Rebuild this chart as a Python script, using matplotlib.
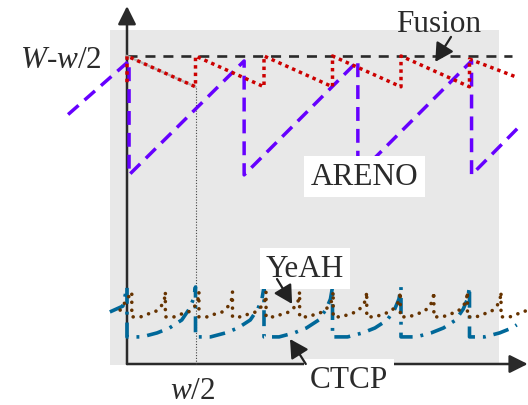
import matplotlib
matplotlib.use("Agg")
import matplotlib.pyplot as plt
from matplotlib.patches import Rectangle

plt.rcParams["font.family"] = "Liberation Serif"
plt.rcParams["mathtext.fontset"] = "custom"
plt.rcParams["mathtext.rm"] = "Liberation Serif"
plt.rcParams["mathtext.it"] = "Liberation Serif:italic"

# x in units of w/2, y normalised so that W - w/2 = 1
fusion_x = [0, 0, 1, 1, 2, 2, 3, 3, 4, 4, 5, 5, 5.68]
fusion_y = [0.915, 1.0, 0.9, 1.0, 0.9, 1.0, 0.9, 1.0, 0.9, 1.0, 0.9, 0.99, 0.932]

areno_x = [-0.86, 0.03, 0.03, 1.71, 1.71, 3.37, 3.37, 5.03, 5.03, 5.75]
areno_y = [0.81, 0.984, 0.614, 0.984, 0.614, 0.984, 0.614, 0.984, 0.614, 0.776]

# CTCP: one cubic-like cycle, repeated every w/2
ctcp_starts = [0, 1, 2, 3, 4]
ctcp_dx = [0, 0.22, 0.44, 0.62, 0.8, 0.91, 0.97, 1.0]
ctcp_y = [0.088, 0.088, 0.101, 0.117, 0.143, 0.179, 0.211, 0.25]
ctcp_lead_x = [-0.25, -0.06, 0]
ctcp_lead_y = [0.169, 0.188, 0.25]
ctcp_tail_x = [5, 5.22, 5.44, 5.62, 5.69]
ctcp_tail_y = [0.088, 0.088, 0.101, 0.117, 0.127]

# YeAH: faster cycles, period ~ w/4
yeah_starts = [0.07, 0.56, 1.05, 1.54, 2.03, 2.52, 3.01, 3.50, 3.99, 4.48, 4.97, 5.46]
yeah_dx = [0, 0, 0.13, 0.23, 0.34, 0.43, 0.475]
yeah_y = [0.234, 0.153, 0.153, 0.162, 0.169, 0.188, 0.208]
yeah_lead_x = [-0.1, -0.044]
yeah_lead_y = [0.175, 0.195]

max_x = 5.62
max_y = 1.0
half_w = 1
fusion_trough = 0.9

TEXT = "#2b2b2b"
FS = 22.5


def tile(starts, dx, ys, lead_x=(), lead_y=(), tail_x=(), tail_y=()):
    xs, out = list(lead_x), list(lead_y)
    for s in starts:
        xs += [s + d for d in dx]
        out += list(ys)
    return xs + list(tail_x), out + list(tail_y)


fig = plt.figure(figsize=(5.28, 4.06), dpi=100)
ax = fig.add_axes([0, 0, 1, 1])
ax.set_xlim(-127 / 68.5, 401 / 68.5)
ax.set_ylim(-41 / 308, 365 / 308)
ax.axis("off")

ax.add_patch(Rectangle((-0.248, -0.003), 5.68, 1.087, fc="#e8e8e8", ec="none", zorder=0))

# axes with arrow heads
arrow_kw = dict(arrowstyle="-|>,head_length=1,head_width=0.5", mutation_scale=11,
                lw=1.8, color="#2a2a2a", shrinkA=0, shrinkB=0)
ax.annotate("", xy=(0, 1.162), xytext=(0, 0), arrowprops=arrow_kw, zorder=1.5)
ax.annotate("", xy=(5.85, 0), xytext=(0, 0), arrowprops=arrow_kw, zorder=1.5)

# reference lines
ax.plot([0, max_x], [max_y, max_y], color="#2a2a2a", lw=1.9, ls=(0, (3.8, 3.0)), zorder=2)
ax.plot([half_w, half_w], [0, fusion_trough], color="#444444",
        lw=0.8, ls=(0, (1, 1.5)), zorder=2)
ax.plot(fusion_x[1:3], fusion_y[1:3], color="#b4b4b4", lw=1.6, zorder=2)

# series
ax.plot(areno_x, areno_y, color="#6600ff", lw=2.5, ls=(0, (4.0, 2.3)), zorder=3)
ax.plot(fusion_x, fusion_y, color="#cc0000", lw=2.5, ls=(0, (1, 1.15)), zorder=3.5)

cx, cy = tile(ctcp_starts, ctcp_dx, ctcp_y, ctcp_lead_x, ctcp_lead_y, ctcp_tail_x, ctcp_tail_y)
ax.plot(cx, cy, color="#006899", lw=2.6, ls=(0, (4.4, 2.2, 0.8, 2.2)), zorder=3)

yx, yy = tile(yeah_starts, yeah_dx, yeah_y, yeah_lead_x, yeah_lead_y)
ax.plot(yx, yy, color="#663300", lw=2.6, ls=(0, (0.01, 2.2)), dash_capstyle="round", zorder=3.2)

# labels
box = dict(boxstyle="square,pad=0.2", fc="white", ec="none")
ax.text(-0.365, 0.964, r"$W$-$w$/2", fontsize=FS, color=TEXT, ha="right", va="baseline")
ax.text(0.956, -0.112, r"$w$/2", fontsize=FS, color=TEXT, ha="center", va="baseline")
ax.text(4.555, 1.081, "Fusion", fontsize=FS, color=TEXT, ha="center", va="baseline", zorder=5)
ax.text(3.467, 0.584, "ARENO", fontsize=FS, color=TEXT, ha="center", va="baseline",
        bbox=box, zorder=5)
ax.text(2.60, 0.286, "YeAH", fontsize=FS, color=TEXT, ha="center", va="baseline",
        bbox=box, zorder=5)
ax.text(3.24, -0.075, "CTCP", fontsize=FS, color=TEXT, ha="center", va="baseline",
        bbox=box, zorder=5)

small_arrow = dict(arrowstyle="-|>,head_length=1,head_width=0.55", mutation_scale=11,
                   lw=1.6, color="#222222", shrinkA=0, shrinkB=0)
ax.annotate("", xy=(4.50, 0.981), xytext=(4.73, 1.062), arrowprops=small_arrow, zorder=6)
ax.annotate("", xy=(2.41, 0.195), xytext=(2.19, 0.276), arrowprops=small_arrow, zorder=6)
ax.annotate("", xy=(2.38, 0.081), xytext=(2.61, 0.0), arrowprops=small_arrow, zorder=6)

fig.savefig("out.png", dpi=100)
